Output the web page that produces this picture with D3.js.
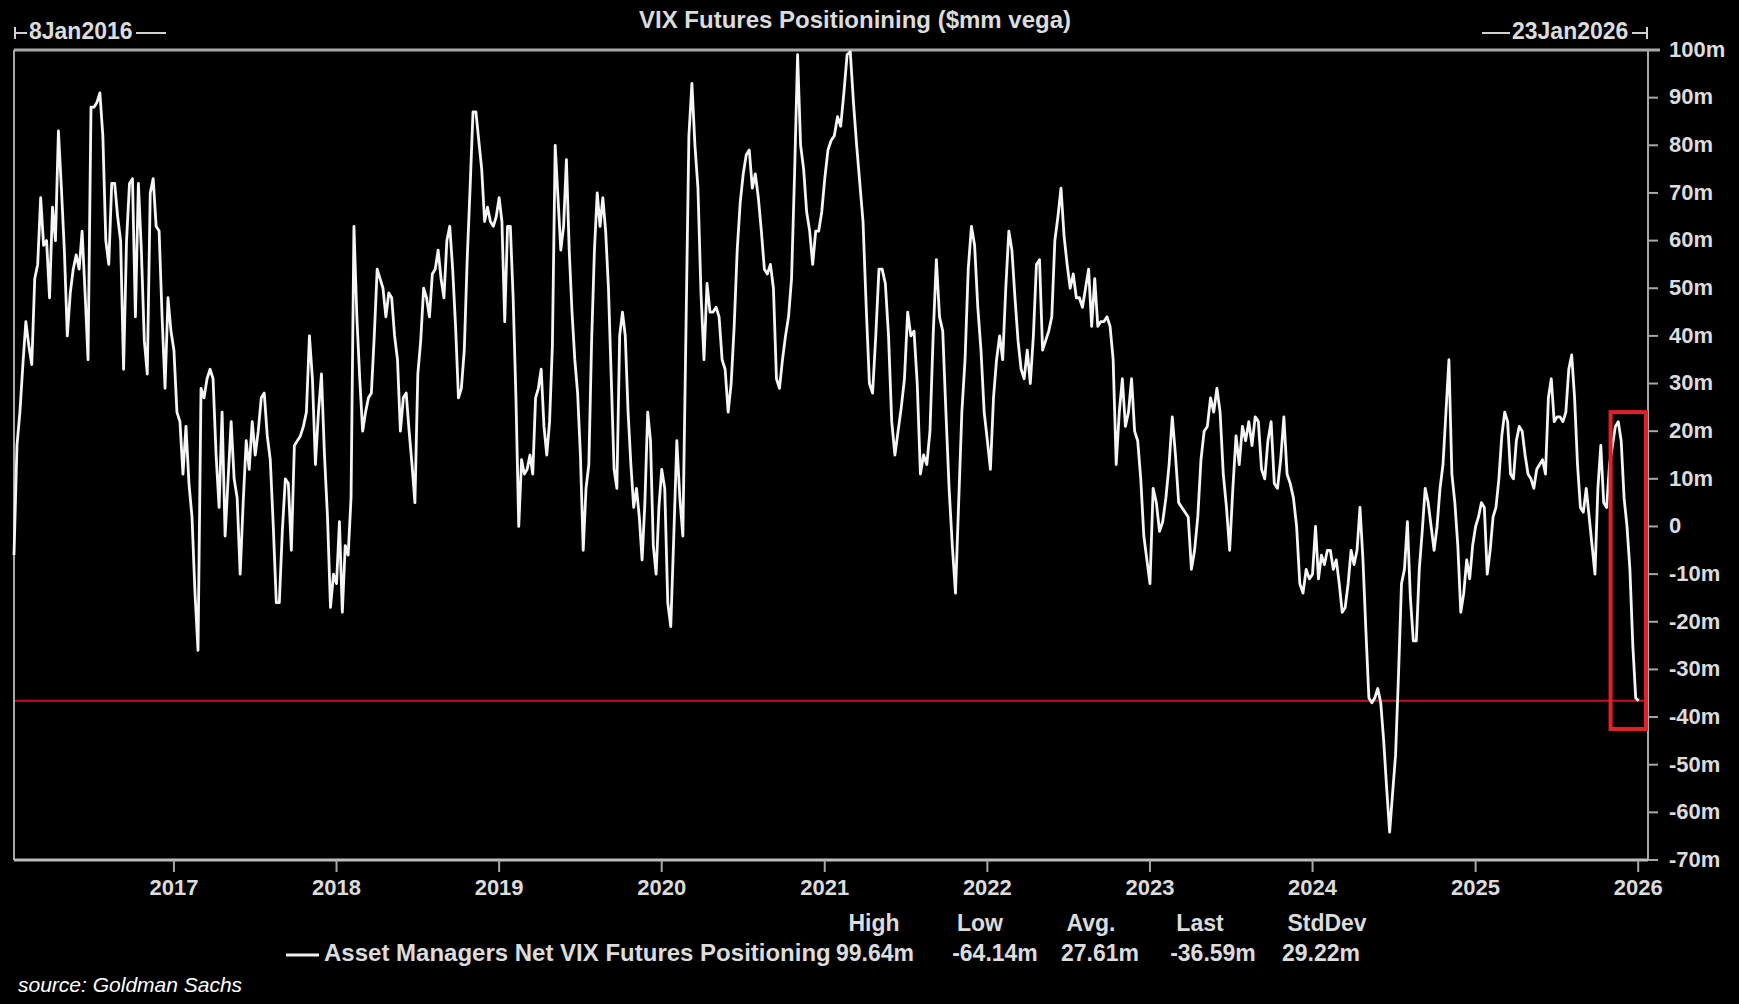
<!DOCTYPE html>
<html lang="en">
<head>
  <meta charset="UTF-8">
  <title>VIX Futures Positioning</title>
  <style>
    body {
      margin: 0;
      overflow: hidden;
      background: #000;
    }
    svg {
      display: block;
      background: #000;
    }
    text {
      font-family: "Liberation Sans", Arial, sans-serif;
      font-weight: bold;
      fill: #dcdcdc;
    }
  </style>
</head>
<body>
  <svg width="1739" height="1004"></svg>
  <script src="https://d3js.org/d3.v7.min.js"></script>
  <script>
    // Weekly readings per calendar year ($mm vega)
    const v2016 = [-6, 17, 24, 34, 43, 38, 34, 52, 55, 69, 59, 60, 48, 67, 60, 83, 71, 58, 40, 49, 54, 57, 54, 62, 49, 35, 88, 88, 89, 91, 82, 60, 55, 72, 72, 65, 60, 33, 60, 72, 73, 44, 72, 58, 39, 32, 70, 73, 63, 62, 44, 29, 48, 41];
    const v2017 = [37, 24, 22, 11, 21, 9, 2, -14, -26, 29, 27, 31, 33, 31, 15, 4, 24, -2, 10, 22, 10, 6, -10, 5, 18, 12, 22, 15, 20, 27, 28, 19, 14, 0, -16, -16, -1, 10, 9, -5, 17, 18, 19, 21, 24, 40, 31, 13, 24, 32, 15, 2, -17, -10];
    const v2018 = [-12, 1, -18, -4, -6, 6, 63, 44, 31, 20, 24, 27, 28, 40, 54, 52, 50, 44, 49, 48, 40, 35, 20, 27, 28, 20, 13, 5, 32, 39, 50, 48, 44, 53, 54, 58, 52, 48, 60, 63, 54, 42, 27, 29, 37, 56, 71, 87, 87, 81, 75, 64, 67, 64, 63, 65];
    const v2019 = [69, 64, 43, 63, 63, 48, 27, 0, 14, 11, 12, 15, 11, 27, 29, 33, 21, 15, 22, 38, 80, 69, 58, 63, 77, 58, 45, 35, 28, 15, -5, 8, 13, 39, 58, 70, 63, 69, 62, 50, 31, 12, 8, 40, 45, 40, 24, 13, 4, 8, 2, -7, 5, 24, 18, -4, -10, 4];
    const v2020 = [12, 8, -16, -21, -2, 18, 6, -2, 40, 82, 93, 80, 71, 49, 35, 51, 45, 45, 46, 44, 35, 33, 24, 30, 42, 58, 68, 74, 78, 79, 71, 74, 69, 62, 54, 53, 55, 50, 31, 29, 35, 40, 44, 52, 74, 99, 80, 75, 66, 62, 55, 62, 62, 66];
    const v2021 = [73, 79, 81, 82, 86, 84, 91, 99, 99.64, 89, 80, 72, 64, 46, 30, 28, 40, 54, 54, 51, 40, 22, 15, 20, 25, 31, 45, 40, 41, 30, 11, 15, 13, 20, 40, 56, 44, 41, 24, 8, -4, -14, 5, 24, 35, 54, 63, 59, 46, 37, 24];
    const v2022 = [18, 12, 27, 35, 40, 35, 50, 62, 58, 48, 39, 33, 31, 37, 30, 40, 55, 56, 37, 39, 41, 44, 60, 65, 71, 61, 55, 50, 53, 48, 48, 46, 50, 54, 42, 52, 42, 43, 43, 44, 42, 35, 13, 24, 31, 21, 24, 31, 20, 18, 10, -2, -7];
    const v2023 = [-12, 8, 5, -1, 1, 6, 13, 23, 15, 5, 4, 3, 2, -9, -5, 2, 14, 20, 21, 27, 24, 29, 24, 11, 4, -5, 8, 19, 13, 21, 18, 22, 17, 23, 22, 12, 10, 18, 22, 9, 8, 14, 23, 11, 9, 6, 0, -12, -14, -9, -11];
    const v2024 = [-10, 0, -11, -6, -8, -5, -5, -9, -7, -12, -18, -17, -12, -5, -8, -5, 4, -7, -22, -36, -37, -36, -34, -37, -45, -55, -64.14, -56, -48, -31, -12, -9, 1, -15, -24, -24, -9, -1, 8, 5, 0, -5, 0, 8, 13, 24, 35, 11, 5, -4, -18, -14, -7, -11, -4];
    const v2025 = [0, 2, 5, 4, -10, -5, 2, 4, 10, 19, 24, 22, 11, 10, 18, 21, 20, 15, 11, 10, 8, 12, 13, 14, 11, 27, 31, 22, 23, 23, 22, 24, 33, 36, 27, 13, 4, 3, 8, 2, -4, -10, 8, 17, 5, 4, 13, 17, 21, 22, 18, 6, 0, -9, -25, -36, -36.59];

    const years = [2016, 2017, 2018, 2019, 2020, 2021, 2022, 2023, 2024, 2025];
    const yearValues = [v2016, v2017, v2018, v2019, v2020, v2021, v2022, v2023, v2024, v2025];

    const yTicks = [100, 90, 80, 70, 60, 50, 40, 30, 20, 10, 0, -10, -20, -30, -40, -50, -60, -70];
    const xTickYears = [2017, 2018, 2019, 2020, 2021, 2022, 2023, 2024, 2025, 2026];

    const statHeaders = ["High", "Low", "Avg.", "Last", "StdDev"];
    const statValues = ["99.64m", "-64.14m", "27.61m", "-36.59m", "29.22m"];
    const lastValue = -36.59;

    const startDate = new Date(2016, 0, 8);
    const endDate = new Date(2026, 0, 23);
    const lastDate = new Date(2026, 0, 2);
    // highlighted window (red box)
    const boxFrom = new Date(2025, 9, 31);
    const boxTop = 24;
    const boxBottom = -42.5;

    // build dated series
    const series = [];
    years.forEach((yr, k) => {
      const vals = yearValues[k];
      const t0 = yr === 2016 ? startDate : new Date(yr, 0, 1);
      const t1 = yr === 2025 ? lastDate : new Date(yr + 1, 0, 1);
      const n = yr === 2025 ? vals.length - 1 : vals.length;
      vals.forEach((v, i) => {
        series.push({ date: new Date(+t0 + (t1 - t0) * i / n), value: v });
      });
    });

    const svg = d3.select("svg");
    const plotLeft = 14, plotRight = 1648, plotTop = 50, plotBottom = 860;

    const x = d3.scaleTime().domain([startDate, endDate]).range([plotLeft, plotRight]);
    const y = d3.scaleLinear().domain([-70, 100]).range([plotBottom, plotTop]);

    const frameColor = "#a8a8a8";

    // title
    svg.append("text")
      .attr("x", 855).attr("y", 22)
      .attr("text-anchor", "middle")
      .attr("dominant-baseline", "middle")
      .style("font-size", "24px")
      .text("VIX Futures Positionining ($mm vega)");

    // start / end date markers
    const mk = svg.append("g").attr("stroke", "#d0d0d0").attr("stroke-width", 2);
    mk.append("line").attr("x1", plotLeft + 1).attr("x2", plotLeft + 1).attr("y1", 27).attr("y2", 39);
    mk.append("line").attr("x1", plotLeft + 1).attr("x2", 27).attr("y1", 33).attr("y2", 33);
    mk.append("line").attr("x1", 136).attr("x2", 166).attr("y1", 33).attr("y2", 33);
    mk.append("line").attr("x1", plotRight - 1).attr("x2", plotRight - 1).attr("y1", 27).attr("y2", 39);
    mk.append("line").attr("x1", 1632).attr("x2", plotRight - 1).attr("y1", 33).attr("y2", 33);
    mk.append("line").attr("x1", 1482).attr("x2", 1510).attr("y1", 33).attr("y2", 33);

    svg.append("text")
      .attr("x", 29).attr("y", 33)
      .attr("dominant-baseline", "middle")
      .style("font-size", "23px")
      .text(d3.timeFormat("%-d%b%Y")(startDate));
    svg.append("text")
      .attr("x", 1512).attr("y", 33)
      .attr("dominant-baseline", "middle")
      .style("font-size", "23px")
      .text(d3.timeFormat("%-d%b%Y")(endDate));

    // frame: top and left borders
    svg.append("line")
      .attr("x1", plotLeft).attr("x2", plotRight + 12).attr("y1", plotTop).attr("y2", plotTop)
      .attr("stroke", frameColor).attr("stroke-width", 3);
    svg.append("line")
      .attr("x1", plotLeft).attr("x2", plotLeft).attr("y1", plotTop).attr("y2", plotBottom)
      .attr("stroke", frameColor).attr("stroke-width", 2);

    // right value axis
    const yAxis = svg.append("g");
    yAxis.append("line")
      .attr("x1", plotRight).attr("x2", plotRight).attr("y1", plotTop).attr("y2", plotBottom)
      .attr("stroke", frameColor).attr("stroke-width", 2);
    yAxis.selectAll("line.tick")
      .data(yTicks)
      .join("line")
      .attr("class", "tick")
      .attr("x1", plotRight).attr("x2", plotRight + 10)
      .attr("y1", d => y(d)).attr("y2", d => y(d))
      .attr("stroke", frameColor).attr("stroke-width", 2);
    yAxis.selectAll("text")
      .data(yTicks)
      .join("text")
      .attr("x", plotRight + 21)
      .attr("y", d => y(d) + 1)
      .attr("dominant-baseline", "middle")
      .style("font-size", "22px")
      .text(d => d === 0 ? "0" : d + "m");

    // bottom time axis
    const xAxis = svg.append("g");
    xAxis.append("line")
      .attr("x1", plotLeft).attr("x2", plotRight).attr("y1", plotBottom).attr("y2", plotBottom)
      .attr("stroke", "#bdbdbd").attr("stroke-width", 3);
    xAxis.selectAll("line.tick")
      .data(xTickYears)
      .join("line")
      .attr("class", "tick")
      .attr("x1", d => x(new Date(d, 0, 1))).attr("x2", d => x(new Date(d, 0, 1)))
      .attr("y1", plotBottom).attr("y2", plotBottom + 12)
      .attr("stroke", frameColor).attr("stroke-width", 2);
    xAxis.selectAll("text")
      .data(xTickYears)
      .join("text")
      .attr("x", d => x(new Date(d, 0, 1)))
      .attr("y", 889)
      .attr("text-anchor", "middle")
      .attr("dominant-baseline", "middle")
      .style("font-size", "22px")
      .text(d => d);

    // last-value reference line
    svg.append("line")
      .attr("x1", plotLeft + 1).attr("x2", plotRight - 1)
      .attr("y1", y(lastValue)).attr("y2", y(lastValue))
      .attr("stroke", "#c4141c").attr("stroke-width", 2);

    // series line
    const line = d3.line()
      .x(d => x(d.date))
      .y(d => y(d.value));

    svg.append("path")
      .datum(series)
      .attr("fill", "none")
      .attr("stroke", "#f5f5f5")
      .attr("stroke-width", 2.8)
      .attr("stroke-linejoin", "round")
      .attr("d", line);

    // highlight box
    svg.append("rect")
      .attr("x", x(boxFrom))
      .attr("y", y(boxTop))
      .attr("width", x(endDate) - x(boxFrom) - 2)
      .attr("height", y(boxBottom) - y(boxTop))
      .attr("fill", "none")
      .attr("stroke", "#e0202a")
      .attr("stroke-width", 4);

    // legend with stats
    const legendY = 955;
    svg.append("line")
      .attr("x1", 286).attr("x2", 319).attr("y1", legendY).attr("y2", legendY)
      .attr("stroke", "#f0f0f0").attr("stroke-width", 3);
    svg.append("text")
      .attr("x", 324).attr("y", legendY)
      .attr("dominant-baseline", "middle")
      .style("font-size", "24px")
      .text("Asset Managers Net VIX Futures Positioning");

    const headerX = [874, 980, 1091, 1200, 1327];
    const valueX = [875, 995, 1100, 1213, 1321];
    svg.selectAll("text.stathead")
      .data(statHeaders)
      .join("text")
      .attr("class", "stathead")
      .attr("x", (d, i) => headerX[i])
      .attr("y", 925)
      .attr("text-anchor", "middle")
      .attr("dominant-baseline", "middle")
      .style("font-size", "23px")
      .text(d => d);
    svg.selectAll("text.statval")
      .data(statValues)
      .join("text")
      .attr("class", "statval")
      .attr("x", (d, i) => valueX[i])
      .attr("y", legendY)
      .attr("text-anchor", "middle")
      .attr("dominant-baseline", "middle")
      .style("font-size", "23px")
      .text(d => d);

    // source note
    svg.append("text")
      .attr("x", 18).attr("y", 986)
      .attr("dominant-baseline", "middle")
      .style("font-size", "21px")
      .style("font-weight", "normal")
      .style("font-style", "italic")
      .style("fill", "#ffffff")
      .text("source: Goldman Sachs");
  </script>
</body>
</html>
